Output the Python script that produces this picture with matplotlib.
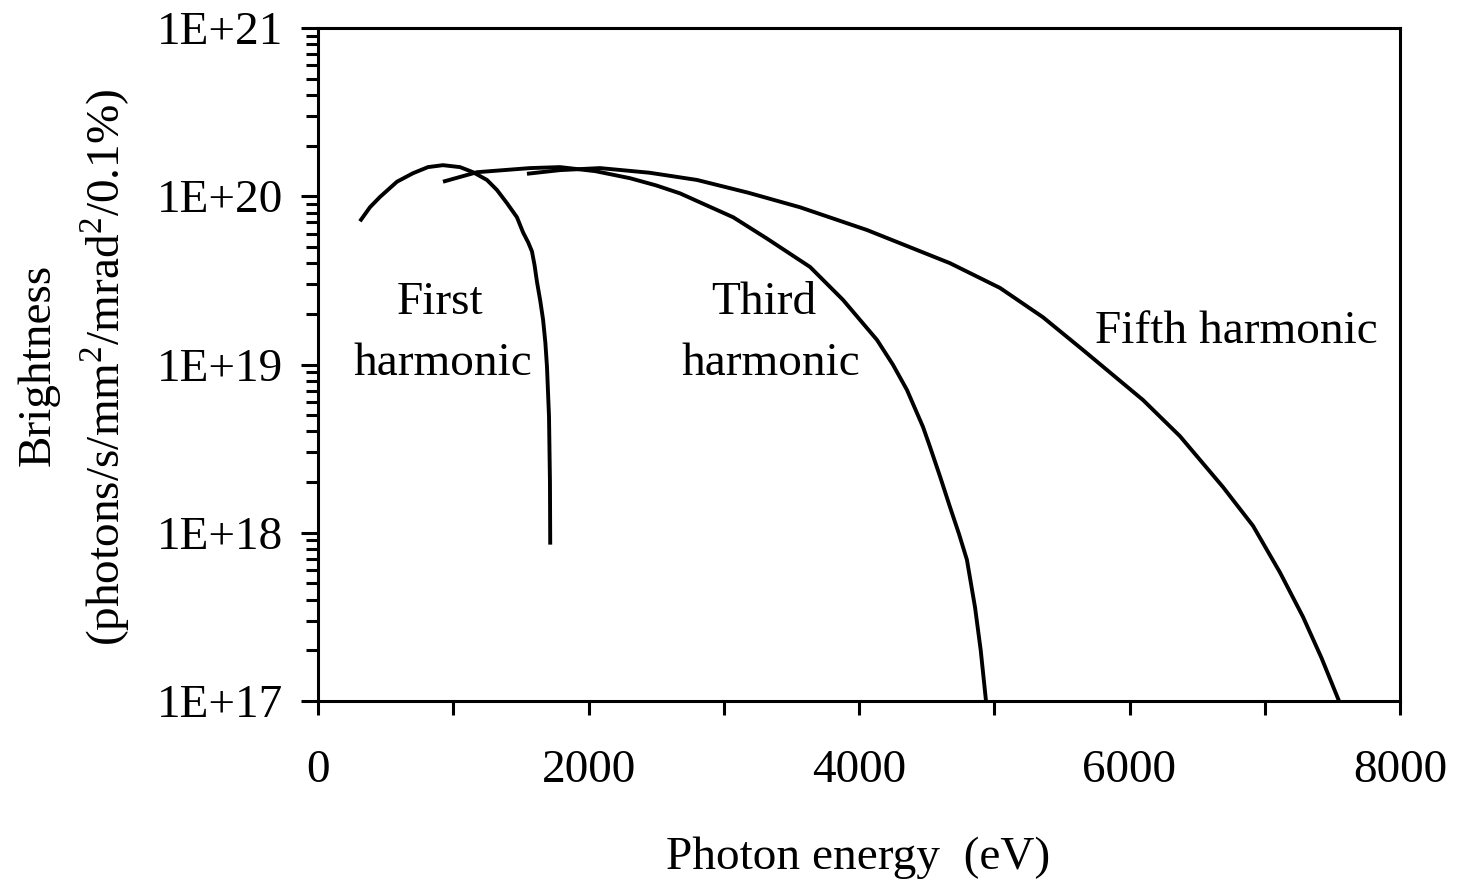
import matplotlib
matplotlib.use("Agg")
import matplotlib.pyplot as plt

# photon energy (eV) and brightness
first_energy = [310, 384, 458, 584, 702, 813, 924, 1050, 1146, 1249, 1323, 1397,
                1471, 1516, 1555, 1582, 1601, 1619, 1643, 1664, 1681, 1693, 1708,
                1715, 1717]
first_bright = [7.1e19, 8.6e19, 9.9e19, 1.22e20, 1.37e20, 1.49e20, 1.53e20, 1.49e20,
                1.39e20, 1.25e20, 1.09e20, 9.1e19, 7.5e19, 6.1e19, 5.3e19, 4.7e19,
                3.9e19, 3.1e19, 2.4e19, 1.85e19, 1.35e19, 9.7e18, 4.9e18,
                2.0e18, 8.5e17]

third_energy = [924, 1176, 1567, 1789, 2050, 2307, 2500, 2677, 2824, 3070, 3320,
                3638, 3882, 4133, 4250, 4355, 4473, 4525, 4600, 4673, 4740, 4798,
                4858, 4900, 4939]
third_bright = [1.22e20, 1.39e20, 1.47e20, 1.49e20, 1.41e20, 1.28e20, 1.16e20,
                1.04e20, 9.2e19, 7.5e19, 5.6e19, 3.8e19, 2.42e19, 1.4e19, 1.0e19,
                7.05e18, 4.26e18, 3.24e18, 2.15e18, 1.42e18, 9.8e17, 6.9e17,
                3.6e17, 2.0e17, 1.0e17]

fifth_energy = [1545, 1789, 2085, 2450, 2802, 3180, 3564, 4059, 4673, 5043, 5360,
                5656, 6100, 6373, 6691, 6913, 7113, 7283, 7420, 7549]
fifth_bright = [1.36e20, 1.43e20, 1.47e20, 1.38e20, 1.25e20, 1.05e20, 8.6e19, 6.3e19,
                4.0e19, 2.85e19, 1.91e19, 1.22e19, 6.15e18, 3.75e18, 1.87e18,
                1.1e18, 5.8e17, 3.16e17, 1.8e17, 1.0e17]

xticks = [0, 1000, 2000, 3000, 4000, 5000, 6000, 7000, 8000]
xticklabels = ["0", "", "2000", "", "4000", "", "6000", "", "8000"]
yticks = [1e17, 1e18, 1e19, 1e20, 1e21]
yticklabels = ["1E+17", "1E+18", "1E+19", "1E+20", "1E+21"]

W, H = 1457, 881
plt.rcParams['font.family'] = ['Liberation Serif', 'DejaVu Serif']
plt.rcParams['mathtext.fontset'] = 'custom'
plt.rcParams['mathtext.rm'] = 'Liberation Serif'
fs = 34

fig = plt.figure(figsize=(W / 100, H / 100), dpi=100)
ax = fig.add_axes([318 / W, 1 - 701 / H, (1400 - 318) / W, (701 - 28) / H])

lw = 2.8
ax.plot(first_energy, first_bright, color='black', lw=lw, solid_capstyle='butt')
ax.plot(third_energy, third_bright, color='black', lw=lw, solid_capstyle='butt')
ax.plot(fifth_energy, fifth_bright, color='black', lw=lw, solid_capstyle='butt')

ax.set_yscale('log')
ax.set_xlim(0, 8000)
ax.set_ylim(1e17, 1e21)
ax.set_xticks(xticks)
ax.set_xticklabels(xticklabels)
ax.set_yticks(yticks)
ax.set_yticklabels(yticklabels)

for s in ax.spines.values():
    s.set_linewidth(2.2)

ax.tick_params(axis='both', which='both', direction='out', width=2.2, colors='black',
               labelsize=fs)
ax.tick_params(axis='y', which='major', length=12, pad=13)
ax.tick_params(axis='y', which='minor', length=8.5)
ax.tick_params(axis='x', which='major', length=10, pad=25)
ax.tick_params(axis='x', which='minor', bottom=False)

def px(x, y):
    return x / W, 1 - y / H

# curve labels
fig.text(*px(440, 314), "First", fontsize=fs, ha='center', va='baseline')
fig.text(*px(443, 375), "harmonic", fontsize=fs, ha='center', va='baseline')
fig.text(*px(764, 314), "Third", fontsize=fs, ha='center', va='baseline')
fig.text(*px(771, 375), "harmonic", fontsize=fs, ha='center', va='baseline')
fig.text(*px(1236, 343), "Fifth harmonic", fontsize=fs, ha='center', va='baseline')

# axis titles
fig.text(*px(858, 858), "Photon energy  (eV)", fontsize=fs, ha='center', va='center')
fig.text(*px(38, 365), "Brightness", fontsize=fs, ha='center', va='center', rotation=90)
fig.text(*px(105, 367), r"(photons/s/mm$^2$/mrad$^2$/0.1%)", fontsize=fs,
         ha='center', va='center', rotation=90)

fig.savefig("out.png", dpi=100)
